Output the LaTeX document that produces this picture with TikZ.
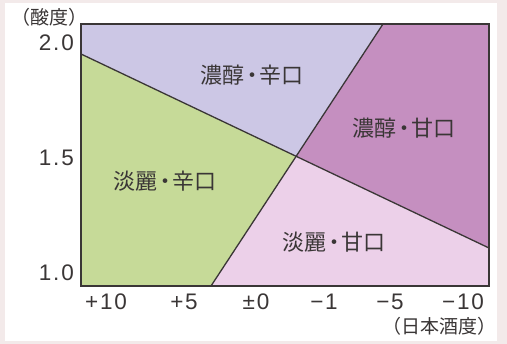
\documentclass[tikz,border=0pt]{standalone}
\usepackage{fontspec}
\usetikzlibrary{calc,intersections}
\newfontfamily\jpfont{Noto Sans CJK JP}
\newfontfamily\numfont[LetterSpace=8]{Liberation Sans}
\definecolor{bgpink}{HTML}{F3EAEA}
\definecolor{lav}{HTML}{CCC7E5}
\definecolor{mag}{HTML}{C58FC0}
\definecolor{lpink}{HTML}{ECD0E9}
\definecolor{lgreen}{HTML}{C6DA98}
\definecolor{ink}{HTML}{3A3636}
\tikzset{
  regionlabel/.style={font=\jpfont\fontsize{22}{22}\selectfont, text=ink, inner sep=0pt},
  ticklabel/.style={font=\numfont\fontsize{22.5}{22.5}\selectfont, text=ink, inner sep=0pt},
  axistitle/.style={font=\jpfont\fontsize{19}{19}\selectfont, text=ink, inner sep=0pt},
  divider/.style={draw=ink, line width=1.3pt},
  frame/.style={draw=ink, line width=1.6pt}
}
\begin{document}
\begin{tikzpicture}[x=1pt,y=-1pt]
\useasboundingbox (0,0) rectangle (507,344);
\fill[bgpink] (0,0) rectangle (507,344);
\fill[white] (5,3) rectangle (497,341);
% corners
\coordinate (TL) at (81,24);
\coordinate (TR) at (489,24);
\coordinate (BR) at (489,286);
\coordinate (BL) at (81,286);
\coordinate (A) at (81,54);
\coordinate (B) at (489,248);
\coordinate (C) at (211,286);
\coordinate (D) at (383,24);
\path[name path=ab] (A) -- (B);
\path[name path=cd] (C) -- (D);
\path[name intersections={of=ab and cd, by=X}];
% regions
\fill[lav] (TL) -- (D) -- (X) -- (A) -- cycle;
\fill[mag] (D) -- (TR) -- (B) -- (X) -- cycle;
\fill[lpink] (X) -- (B) -- (BR) -- (C) -- cycle;
\fill[lgreen] (A) -- (X) -- (C) -- (BL) -- cycle;
\draw[divider] (A) -- (B);
\draw[divider] (C) -- (D);
\draw[frame] (TL) rectangle (BR);
% region labels
\node[regionlabel] (l1) at (252,75) {濃醇\kern-0.15em・\kern-0.15em辛口};
\node[regionlabel] (l2) at (404,128) {濃醇\kern-0.15em・\kern-0.15em甘口};
\node[regionlabel] (l3) at (165,181) {淡麗\kern-0.15em・\kern-0.15em辛口};
\node[regionlabel] (l4) at (334,242) {淡麗\kern-0.15em・\kern-0.15em甘口};
% y ticks
\node[ticklabel, anchor=east] (y20) at (74,43) {2.0};
\node[ticklabel, anchor=east] (y15) at (74,158) {1.5};
\node[ticklabel, anchor=east] (y10) at (74,273) {1.0};
% x ticks
\node[ticklabel] (x1) at (106,302) {+10};
\node[ticklabel] (x2) at (184,302) {+5};
\node[ticklabel] (x3) at (256,302) {±0};
\node[ticklabel] (x4) at (324,302) {−1};
\node[ticklabel] (x5) at (390,302) {−5};
\node[ticklabel] (x6) at (463,302) {−10};
% axis titles
\node[axistitle, anchor=west] (yt) at (11,17) {（酸度）};
\node[axistitle, anchor=east] (xt) at (497,326) {（日本酒度）};
\end{tikzpicture}
\end{document}
